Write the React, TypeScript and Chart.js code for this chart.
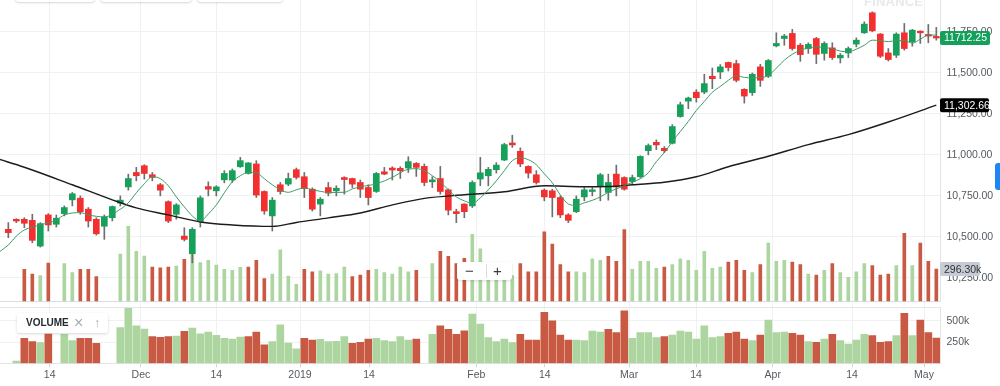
import React, { useEffect, useRef } from 'react';
import { Chart, registerables } from 'chart.js';

Chart.register(...registerables);

// ---------- data (one entry per trading-day slot, slot 0 = first visible candle) ----------
const OPEN = [10545,10606,10606,10600,10443,10633,10576,10641,10725,10735,
10668,10606,10564,10616,10705,10804,10892,10933,10878,10817,
10714,10637,10504,10396,10592,10806,10780,10847,10846,10927,
10886,10944,10776,10627,10817,10821,10909,10866,10790,10699,
10800,10780,10861,10855,10831,10800,10776,10896,10919,10917,
10919,10947,10929,10835,10855,10786,10653,10699,10688,10852,
10872,10909,10968,11072,11021,10929,10878,10784,10780,10739,
10633,10653,10743,10776,10811,10770,10882,10861,10837,10866,
11025,11076,11039,11070,11233,11327,11382,11382,11479,11505,
11563,11556,11399,11379,11536,11479,11664,11709,11740,11668,
11648,11709,11618,11652,11591,11621,11675,11744,11866,11736,
11621,11607,11744,11689,11754,11734,11722];

const HIGH = [10586,10610,10616,10637,10586,10641,10633,10688,10770,10749,
10678,10616,10633,10688,10749,10882,10923,10939,10892,10825,
10719,10702,10555,10555,10749,10835,10811,10903,10913,10984,
10953,10964,10780,10739,10831,10888,10919,10892,10798,10739,
10831,10811,10866,10858,10846,10817,10892,10923,10927,10927,
10988,10953,10944,10866,10929,10792,10668,10702,10841,10984,
10923,10952,11070,11119,11042,10933,10903,10792,10790,10749,
10641,10749,10800,10800,10886,10882,10937,10866,10876,10994,
11066,11091,11050,11184,11321,11352,11397,11491,11529,11550,
11566,11577,11403,11499,11552,11581,11744,11734,11765,11679,
11683,11716,11689,11683,11618,11658,11713,11811,11872,11740,
11648,11744,11801,11765,11756,11795,11777];

const LOW = [10494,10586,10555,10463,10437,10535,10559,10627,10688,10637,
10559,10510,10484,10596,10688,10784,10841,10852,10841,10749,
10586,10607,10474,10341,10559,10749,10749,10829,10831,10923,
10882,10739,10637,10535,10760,10811,10852,10739,10657,10627,
10749,10749,10760,10800,10739,10694,10770,10878,10846,10855,
10892,10868,10811,10800,10760,10633,10586,10616,10678,10811,
10811,10888,10964,11045,10927,10858,10821,10719,10621,10616,
10586,10647,10719,10749,10719,10723,10749,10784,10821,10861,
10999,11031,11013,11066,11229,11281,11321,11372,11403,11464,
11511,11444,11315,11362,11417,11471,11658,11668,11638,11570,
11618,11556,11577,11581,11560,11593,11658,11740,11750,11593,
11572,11593,11638,11662,11679,11683,11699];

const CLOSE = [10525,10596,10582,10478,10580,10572,10613,10678,10762,10653,
10596,10518,10621,10684,10723,10855,10872,10886,10862,10784,
10596,10694,10484,10545,10737,10790,10804,10886,10903,10964,
10950,10754,10657,10723,10776,10855,10862,10794,10668,10729,
10766,10796,10849,10821,10790,10739,10886,10882,10907,10903,
10958,10923,10831,10847,10776,10662,10641,10653,10831,10890,
10911,10937,11062,11060,10944,10888,10831,10743,10739,10633,
10600,10729,10786,10786,10878,10831,10804,10790,10861,10990,
11056,11060,11025,11172,11305,11346,11348,11434,11464,11536,
11532,11454,11358,11491,11454,11575,11679,11724,11648,11611,
11673,11613,11679,11593,11607,11648,11699,11797,11756,11601,
11581,11736,11648,11760,11744,11724,11712.25];

const VOLUME: (number | null)[] = [null,27000,295000,255000,243000,345000,null,342000,267000,295000,
295000,236000,null,null,420000,648000,443000,404000,314000,307000,
314000,322000,377000,416000,349000,369000,330000,295000,286000,310000,
314000,369000,219000,255000,455000,239000,172000,295000,275000,283000,
255000,260000,314000,236000,248000,286000,295000,267000,255000,314000,
275000,286000,null,342000,443000,401000,342000,384000,581000,463000,
302000,255000,286000,243000,342000,275000,275000,601000,502000,334000,
275000,275000,267000,381000,369000,401000,361000,620000,295000,361000,
361000,302000,314000,334000,381000,369000,286000,443000,302000,314000,
354000,369000,286000,267000,334000,510000,361000,369000,354000,334000,
255000,248000,286000,342000,267000,228000,275000,342000,326000,248000,
255000,326000,589000,326000,510000,361000,296300];

// u = volume bar drawn as up (green), d = down (red), - = no bar
const VOLUME_DIR = ('-uddud-uud' + 'dd--uuuudd' + 'duduuuuuuu' + 'ddduuuuddu' + 'uuuddduuuu' +
  'ud-udddduu' + 'uuuudddddd' + 'duuuuddduu' + 'uuduuuuuuu' + 'ddduduuudd' + 'ududuuuudd' + 'dududdd').split('');

// moving averages: [slot, value]
const SMA_FAST: [number, number][] = [[-2,10363],[-1,10412],[0,10449],[1,10504],[2,10541],[4,10572],[6,10602],[7,10633],[9,10647],[10,10633],[12,10621],
[14,10668],[15,10707],[16,10768],[17,10823],[18,10866],[19,10854],[20,10811],[21,10743],[22,10682],[23,10627],[24,10596],[25,10639],[26,10694],
[27,10768],[28,10835],[29,10872],[30,10893],[31,10890],[32,10854],[33,10817],[34,10786],[35,10771],[36,10786],[37,10798],[38,10786],[39,10777],
[40,10770],[42,10771],[43,10792],[44,10804],[46,10823],[48,10862],[50,10912],[51,10915],[52,10903],[53,10872],[54,10835],[55,10786],[56,10743],
[57,10719],[58,10704],[59,10737],[60,10786],[61,10841],[62,10903],[63,10964],[64,10982],[65,10970],[66,10939],[67,10884],[68,10829],[69,10755],
[70,10700],[71,10691],[72,10707],[73,10722],[74,10743],[75,10771],[76,10792],[77,10811],[78,10832],[79,10854],[80,10890],[81,10958],[82,11013],
[83,11080],[84,11142],[85,11203],[86,11270],[87,11325],[88,11381],[89,11417],[90,11454],[91,11482],[92,11472],[93,11469],[94,11472],[95,11482],
[96,11528],[97,11577],[98,11613],[99,11638],[100,11650],[101,11658],[102,11653],[103,11647],[104,11632],[105,11629],[106,11644],[107,11668],
[108,11699],[109,11696],[110,11690],[111,11696],[112,11696],[113,11681],[114,11705],[115,11730],[116,11730]];

const SMA_SLOW: [number, number][] = [[-2,10985],[-1,10970],[2,10924],[8,10817],[13,10725],[16,10676],[20,10633],[24,10590],[28,10572],[33,10563],
[36,10587],[40,10615],[44,10645],[48,10694],[52,10734],[57,10756],[62,10774],[67,10811],[72,10805],[76,10808],[78,10817],[82,10832],[86,10866],
[90,10927],[95,10991],[100,11062],[105,11123],[110,11200],[116,11302.66]];

const X_TICK_POS = [5.17, 16.58, 26.0, 36.46, 45.1, 58.5, 67.05, 77.6, 85.96, 95.55, 105.46, 114.46];
const X_TICK_LABELS = ['14', 'Dec', '14', '2019', '14', 'Feb', '14', 'Mar', '14', 'Apr', '14', 'May'];
const PRICE_TICKS = [10250, 10500, 10750, 11000, 11250, 11500, 11750];
const VOLUME_TICKS = [250000, 500000];

const LAST_PRICE = 11712.25;
const LAST_SLOW = 11302.66;
const LAST_VOLUME = 296300;

// ---------- styling / layout ----------
const FONT = '"Liberation Sans", Arial, Helvetica, sans-serif';
const TICK_FONT = { family: FONT, size: 10.5 };
const TICK_COLOR = '#555a5f';
const UP = '#16a15b';
const DOWN = '#f42f2f';
const VOL_UP = '#acd5a0';
const VOL_DOWN = '#c85a44';
const X_MIN = -1.04, X_MAX = 116.46;
const PRICE_MIN = 10108, PRICE_MAX = 11944;
const VOL_MAX = 656000;
const OVER_BASE = 35000, OVER_MIN = -475656, OVER_MAX = 2502213;

const fmtPrice = (v: number) => v.toLocaleString('en-US', { minimumFractionDigits: 2, maximumFractionDigits: 2 });

const tagPlugin = {
  id: 'lastValueTags',
  afterDraw(chart: any) {
    const { ctx } = chart;
    const left = chart.chartArea.right;
    const draw = (py: number, text: string, bg: string, fg: string, w: number) => {
      ctx.save();
      ctx.fillStyle = bg;
      ctx.beginPath();
      if (ctx.roundRect) ctx.roundRect(left, py - 7, w, 14, 2); else ctx.rect(left, py - 7, w, 14);
      ctx.fill();
      ctx.fillStyle = fg;
      ctx.font = `10.5px ${FONT}`;
      ctx.textBaseline = 'middle';
      ctx.textAlign = 'left';
      ctx.fillText(text, left + 4, py + 0.5);
      ctx.restore();
    };
    draw(chart.scales.yOver.getPixelForValue(LAST_VOLUME), (LAST_VOLUME / 1000).toFixed(2) + 'k', '#c6cbd4', '#2f3337', 40);
    draw(chart.scales.y.getPixelForValue(LAST_SLOW), fmtPrice(LAST_SLOW), '#000000', '#ffffff', 49);
    draw(chart.scales.y.getPixelForValue(LAST_PRICE), LAST_PRICE.toFixed(2), '#14a05a', '#ffffff', 50);
  },
};

export default function App() {
  const ref = useRef<HTMLCanvasElement>(null);

  useEffect(() => {
    const slots = OPEN.map((_, i) => i);
    const isUp = (i: number) => CLOSE[i] >= OPEN[i];

    const chart = new Chart(ref.current as HTMLCanvasElement, {
      type: 'line',
      data: {
        datasets: [
          {
            type: 'line', label: 'fast', yAxisID: 'y', order: 1,
            data: SMA_FAST.map(([x, y]) => ({ x, y })),
            borderColor: '#3d9a63', borderWidth: 1, pointRadius: 0, cubicInterpolationMode: 'monotone', fill: false,
          },
          {
            type: 'line', label: 'slow', yAxisID: 'y', order: 2,
            data: SMA_SLOW.map(([x, y]) => ({ x, y })),
            borderColor: '#1c1c1c', borderWidth: 1.4, pointRadius: 0, cubicInterpolationMode: 'monotone', fill: false,
          },
          {
            type: 'bar', label: 'body', yAxisID: 'y', order: 3, grouped: false,
            data: slots.map(i => ({ x: i, y: [OPEN[i], CLOSE[i]] })),
            backgroundColor: slots.map(i => (isUp(i) ? UP : DOWN)),
            barThickness: 6, minBarLength: 1.5,
          },
          {
            type: 'bar', label: 'wick', yAxisID: 'y', order: 4, grouped: false,
            data: slots.map(i => ({ x: i, y: [LOW[i], HIGH[i]] })),
            backgroundColor: '#6e6e6e', barThickness: 1,
          },
          {
            type: 'bar', label: 'volume overlay', yAxisID: 'yOver', order: 6, grouped: false,
            data: slots.map(i => ({ x: i, y: VOLUME[i] != null && (VOLUME[i] as number) > OVER_BASE ? [OVER_BASE, VOLUME[i]] : null })),
            backgroundColor: slots.map(i => (VOLUME_DIR[i] === 'u' ? VOL_UP : VOL_DOWN)),
            barThickness: 3,
          },
          {
            type: 'bar', label: 'volume', yAxisID: 'yVol', order: 6, grouped: false,
            data: slots.map(i => ({ x: i, y: VOLUME[i] })),
            backgroundColor: slots.map(i => (VOLUME_DIR[i] === 'u' ? VOL_UP : VOL_DOWN)),
            barThickness: 7,
          },
        ] as any,
      },
      options: {
        animation: false,
        responsive: false,
        maintainAspectRatio: false,
        layout: { padding: 0 },
        plugins: { legend: { display: false }, tooltip: { enabled: false }, title: { display: false } },
        events: [],
        scales: {
          x: {
            type: 'linear', position: 'bottom', min: X_MIN, max: X_MAX, offset: false,
            afterBuildTicks: (s: any) => { s.ticks = X_TICK_POS.map(value => ({ value })); },
            afterFit: (s: any) => { s.height = 22.7; s.paddingLeft = 0; s.paddingRight = 0; },
            ticks: { autoSkip: false, maxRotation: 0, padding: 2, font: TICK_FONT, color: TICK_COLOR,
              callback: (_v: any, i: number) => X_TICK_LABELS[i] },
            grid: { offset: false, color: '#eef0f2', tickColor: '#d3d6da', tickLength: 4, drawTicks: true },
            border: { display: true, color: '#e2e4e7' },
          },
          yOver: {
            type: 'linear', display: false, position: 'right', min: OVER_MIN, max: OVER_MAX, beginAtZero: false,
          },
          y: {
            type: 'linear', position: 'right', stack: 'panes', stackWeight: 301,
            min: PRICE_MIN, max: PRICE_MAX, beginAtZero: false,
            afterBuildTicks: (s: any) => { s.ticks = [PRICE_MIN, ...PRICE_TICKS].map(value => ({ value })); },
            afterFit: (s: any) => { s.width = 60; s.paddingTop = 0; s.paddingBottom = 0; },
            ticks: { autoSkip: false, padding: 6.5, font: TICK_FONT, color: TICK_COLOR,
              callback: (v: any) => (v === PRICE_MIN ? '' : fmtPrice(Number(v))) },
            grid: { drawTicks: false, color: (c: any) => (c.tick && c.tick.value === PRICE_MIN ? '#d8dee6' : '#f0f1f3') },
            border: { display: true, color: '#e2e4e7' },
          },
          yGap: {
            type: 'linear', display: false, position: 'right', stack: 'panes', stackWeight: 6.7, min: 0, max: 1,
          },
          yVol: {
            type: 'linear', position: 'right', stack: 'panes', stackWeight: 55.6,
            min: 0, max: VOL_MAX, beginAtZero: false,
            afterBuildTicks: (s: any) => { s.ticks = [...VOLUME_TICKS, VOL_MAX].map(value => ({ value })); },
            afterFit: (s: any) => { s.width = 60; s.paddingTop = 0; s.paddingBottom = 0; },
            ticks: { autoSkip: false, padding: 6.5, font: TICK_FONT, color: TICK_COLOR,
              callback: (v: any) => (v === VOL_MAX ? '' : `${Number(v) / 1000}k`) },
            grid: { drawTicks: false, color: (c: any) => (c.tick && c.tick.value === VOL_MAX ? '#e3e5e8' : '#f0f1f3') },
            border: { display: true, color: '#e2e4e7' },
          },
        } as any,
      },
      plugins: [tagPlugin],
    } as any);
    return () => chart.destroy();
  }, []);

  const btn = (left: number, width: number) => (
    <div style={{ position: 'absolute', left, top: -27, width, height: 29, background: '#fff', borderRadius: 4,
      boxShadow: '0 1px 2px rgba(0,0,0,0.16)' }} />
  );

  return (
    <div style={{ position: 'fixed', left: 0, top: 0, width: 1000, height: 386, overflow: 'hidden', background: '#fff', fontFamily: FONT }}>
      <canvas ref={ref} width={1000} height={386} style={{ position: 'absolute', left: 0, top: 0, width: 1000, height: 386 }} />
      {btn(15, 80)}
      {btn(100, 92)}
      {btn(197, 86)}
      <div style={{ position: 'absolute', left: 864, top: -5, fontSize: 13, lineHeight: '13px', fontWeight: 'bold', color: '#e9e9e9', letterSpacing: 0.2 }}>FINANCE</div>
      <div style={{ position: 'absolute', left: 995, top: 163, width: 6, height: 27, background: '#1a87f5', borderRadius: '3px 0 0 3px' }} />
      <div style={{ position: 'absolute', left: 17, top: 313, width: 91, height: 20, background: '#fff', borderRadius: 3,
        boxShadow: '0 1px 3px rgba(0,0,0,0.16)' }}>
        <span style={{ position: 'absolute', left: 9, top: 4, fontSize: 10, lineHeight: '12px', fontWeight: 'bold', color: '#232a31' }}>VOLUME</span>
        <span style={{ position: 'absolute', left: 57, top: 1, fontSize: 16, lineHeight: '18px', color: '#a7abb0' }}>×</span>
        <span style={{ position: 'absolute', left: 77, top: 2, fontSize: 12, lineHeight: '16px', color: '#a7abb0' }}>↑</span>
      </div>
      <div style={{ position: 'absolute', left: 457, top: 262, width: 55, height: 18, background: '#fff', borderRadius: 3,
        boxShadow: '0 1px 3px rgba(0,0,0,0.14)' }}>
        <span style={{ position: 'absolute', left: 8, top: 0, fontSize: 15, lineHeight: '18px', color: '#3a3a3a' }}>−</span>
        <div style={{ position: 'absolute', left: 29, top: 2, width: 1, height: 14, background: '#dcdcdc' }} />
        <span style={{ position: 'absolute', left: 36, top: 0, fontSize: 15, lineHeight: '18px', color: '#3a3a3a' }}>+</span>
      </div>
    </div>
  );
}
